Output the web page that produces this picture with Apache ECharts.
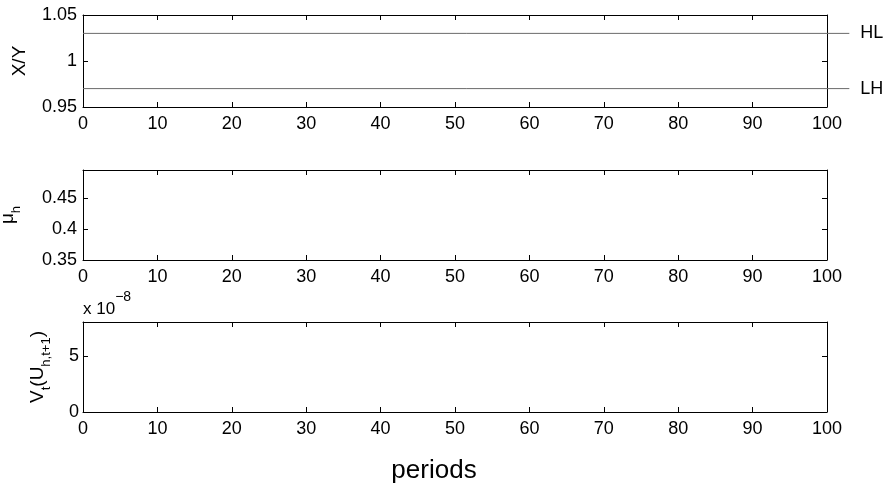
<!DOCTYPE html>
<html>
<head>
<meta charset="utf-8">
<title>periods</title>
<script src="https://cdn.jsdelivr.net/npm/echarts@6/dist/echarts.min.js"></script>
<style>
  html, body { margin: 0; padding: 0; background: #fff; }
  #chart { width: 889px; height: 487px; }
</style>
</head>
<body>
<div id="chart"></div>
<script>
// Horizontal bands on the X/Y panel (they run a little past the last period)
const bandPeriods = [0, 103];
const upperBand = [1.03, 1.03];
const lowerBand = [0.97, 0.97];
const bandNames = ['HL', 'LH'];

// Axis ranges and ticks: [min, max, interval]
const periodRange = [0, 100, 10];
const ratioRange = [0.95, 1.05, 0.05];
const muRange = [0.35, 0.495, 0.05];
const varRange = [0, 8, 5];
const varExponent = '−8';

const FONT = "'Liberation Sans', Arial, Helvetica, sans-serif";
const PLOT_LEFT = 83;
const PLOT_WIDTH = 744;

const gridBase = { left: PLOT_LEFT, width: PLOT_WIDTH, containLabel: false, outerBoundsMode: 'none' };
const grids = [
  Object.assign({ top: 15, height: 92 }, gridBase),
  Object.assign({ top: 170, height: 90 }, gridBase),
  Object.assign({ top: 322, height: 90 }, gridBase),
  // overlay for the band lines, scaled so that they can extend past the box
  Object.assign({}, gridBase, {
    top: 15, height: 92,
    width: PLOT_WIDTH * bandPeriods[1] / periodRange[1]
  })
];

function lineStyles() {
  return {
    splitLine: { show: false },
    axisLine: { show: true, onZero: false, lineStyle: { color: '#000', width: 1 } },
    axisTick: { show: true, inside: true, length: 5, lineStyle: { color: '#000' } }
  };
}

function xAxesFor(gi) {
  const base = Object.assign({
    type: 'value', gridIndex: gi,
    min: periodRange[0], max: periodRange[1], interval: periodRange[2]
  }, lineStyles());
  return [
    Object.assign({}, base, {
      position: 'bottom',
      axisLabel: { show: true, color: '#000', fontSize: 18, fontFamily: FONT, margin: 8 }
    }),
    Object.assign({}, base, { position: 'top', axisLabel: { show: false } })
  ];
}

function isMultiple(v, step) {
  const q = v / step;
  return Math.abs(q - Math.round(q)) < 1e-9;
}

function yAxesFor(gi, range, name, nameGap, rich, labelMargin) {
  const base = Object.assign({
    type: 'value', gridIndex: gi,
    min: range[0], max: range[1], interval: range[2]
  }, lineStyles());
  return [
    Object.assign({}, base, {
      position: 'left',
      name: name, nameLocation: 'middle', nameRotate: 90, nameGap: nameGap,
      nameTextStyle: { color: '#000', fontSize: 19, fontFamily: FONT, rich: rich },
      axisLabel: {
        show: true, color: '#000', fontSize: 18, fontFamily: FONT,
        margin: labelMargin, showMaxLabel: isMultiple(range[1], range[2])
      }
    }),
    Object.assign({}, base, { position: 'right', axisLabel: { show: false } })
  ];
}

const subRich = {
  n: { fontSize: 19, fontFamily: FONT, color: '#000', lineHeight: 25, verticalAlign: 'top' },
  s: { fontSize: 13, fontFamily: FONT, color: '#000', lineHeight: 13, verticalAlign: 'bottom' }
};

const xAxis = [].concat(xAxesFor(0), xAxesFor(1), xAxesFor(2), [{
  type: 'value', gridIndex: 3, show: false,
  min: bandPeriods[0], max: bandPeriods[1]
}]);
const yAxis = [].concat(
  yAxesFor(0, ratioRange, 'X/Y', 54, undefined, 6),
  yAxesFor(1, muRange, '{n|μ}{s|h}', 60, subRich, 6),
  yAxesFor(2, varRange, '{n|V}{s|t}{n|(U}{s|h,t+1}{n|)}', 30, subRich, 4),
  [{ type: 'value', gridIndex: 3, show: false, min: ratioRange[0], max: ratioRange[1] }]
);

function bandSeries(name, values) {
  return {
    name: name, type: 'line', xAxisIndex: 6, yAxisIndex: 6,
    data: bandPeriods.map((p, i) => [p, values[i]]),
    symbol: 'none', silent: true,
    lineStyle: { color: '#6b6b6b', width: 1 },
    endLabel: {
      show: true, formatter: name, distance: 11,
      color: '#000', fontSize: 18, fontFamily: FONT
    }
  };
}

const option = {
  backgroundColor: '#fff',
  animation: false,
  grid: grids,
  xAxis: xAxis,
  yAxis: yAxis,
  series: [
    bandSeries(bandNames[0], upperBand),
    bandSeries(bandNames[1], lowerBand)
  ],
  graphic: [
    {
      type: 'text', left: 83, top: 290,
      style: {
        text: '{b|x 10}{p|' + varExponent + '}',
        rich: {
          b: { fontSize: 17, fontFamily: FONT, fill: '#000', lineHeight: 28, verticalAlign: 'bottom' },
          p: { fontSize: 14, fontFamily: FONT, fill: '#000', lineHeight: 14, verticalAlign: 'top' }
        }
      }
    },
    {
      type: 'text', x: 434, y: 471,
      style: {
        text: 'periods', fontSize: 26, fontFamily: FONT, fill: '#000',
        textAlign: 'center', textVerticalAlign: 'middle'
      }
    }
  ]
};

const chart = echarts.init(document.getElementById('chart'), null, { renderer: 'canvas' });
chart.setOption(option);
</script>
</body>
</html>
